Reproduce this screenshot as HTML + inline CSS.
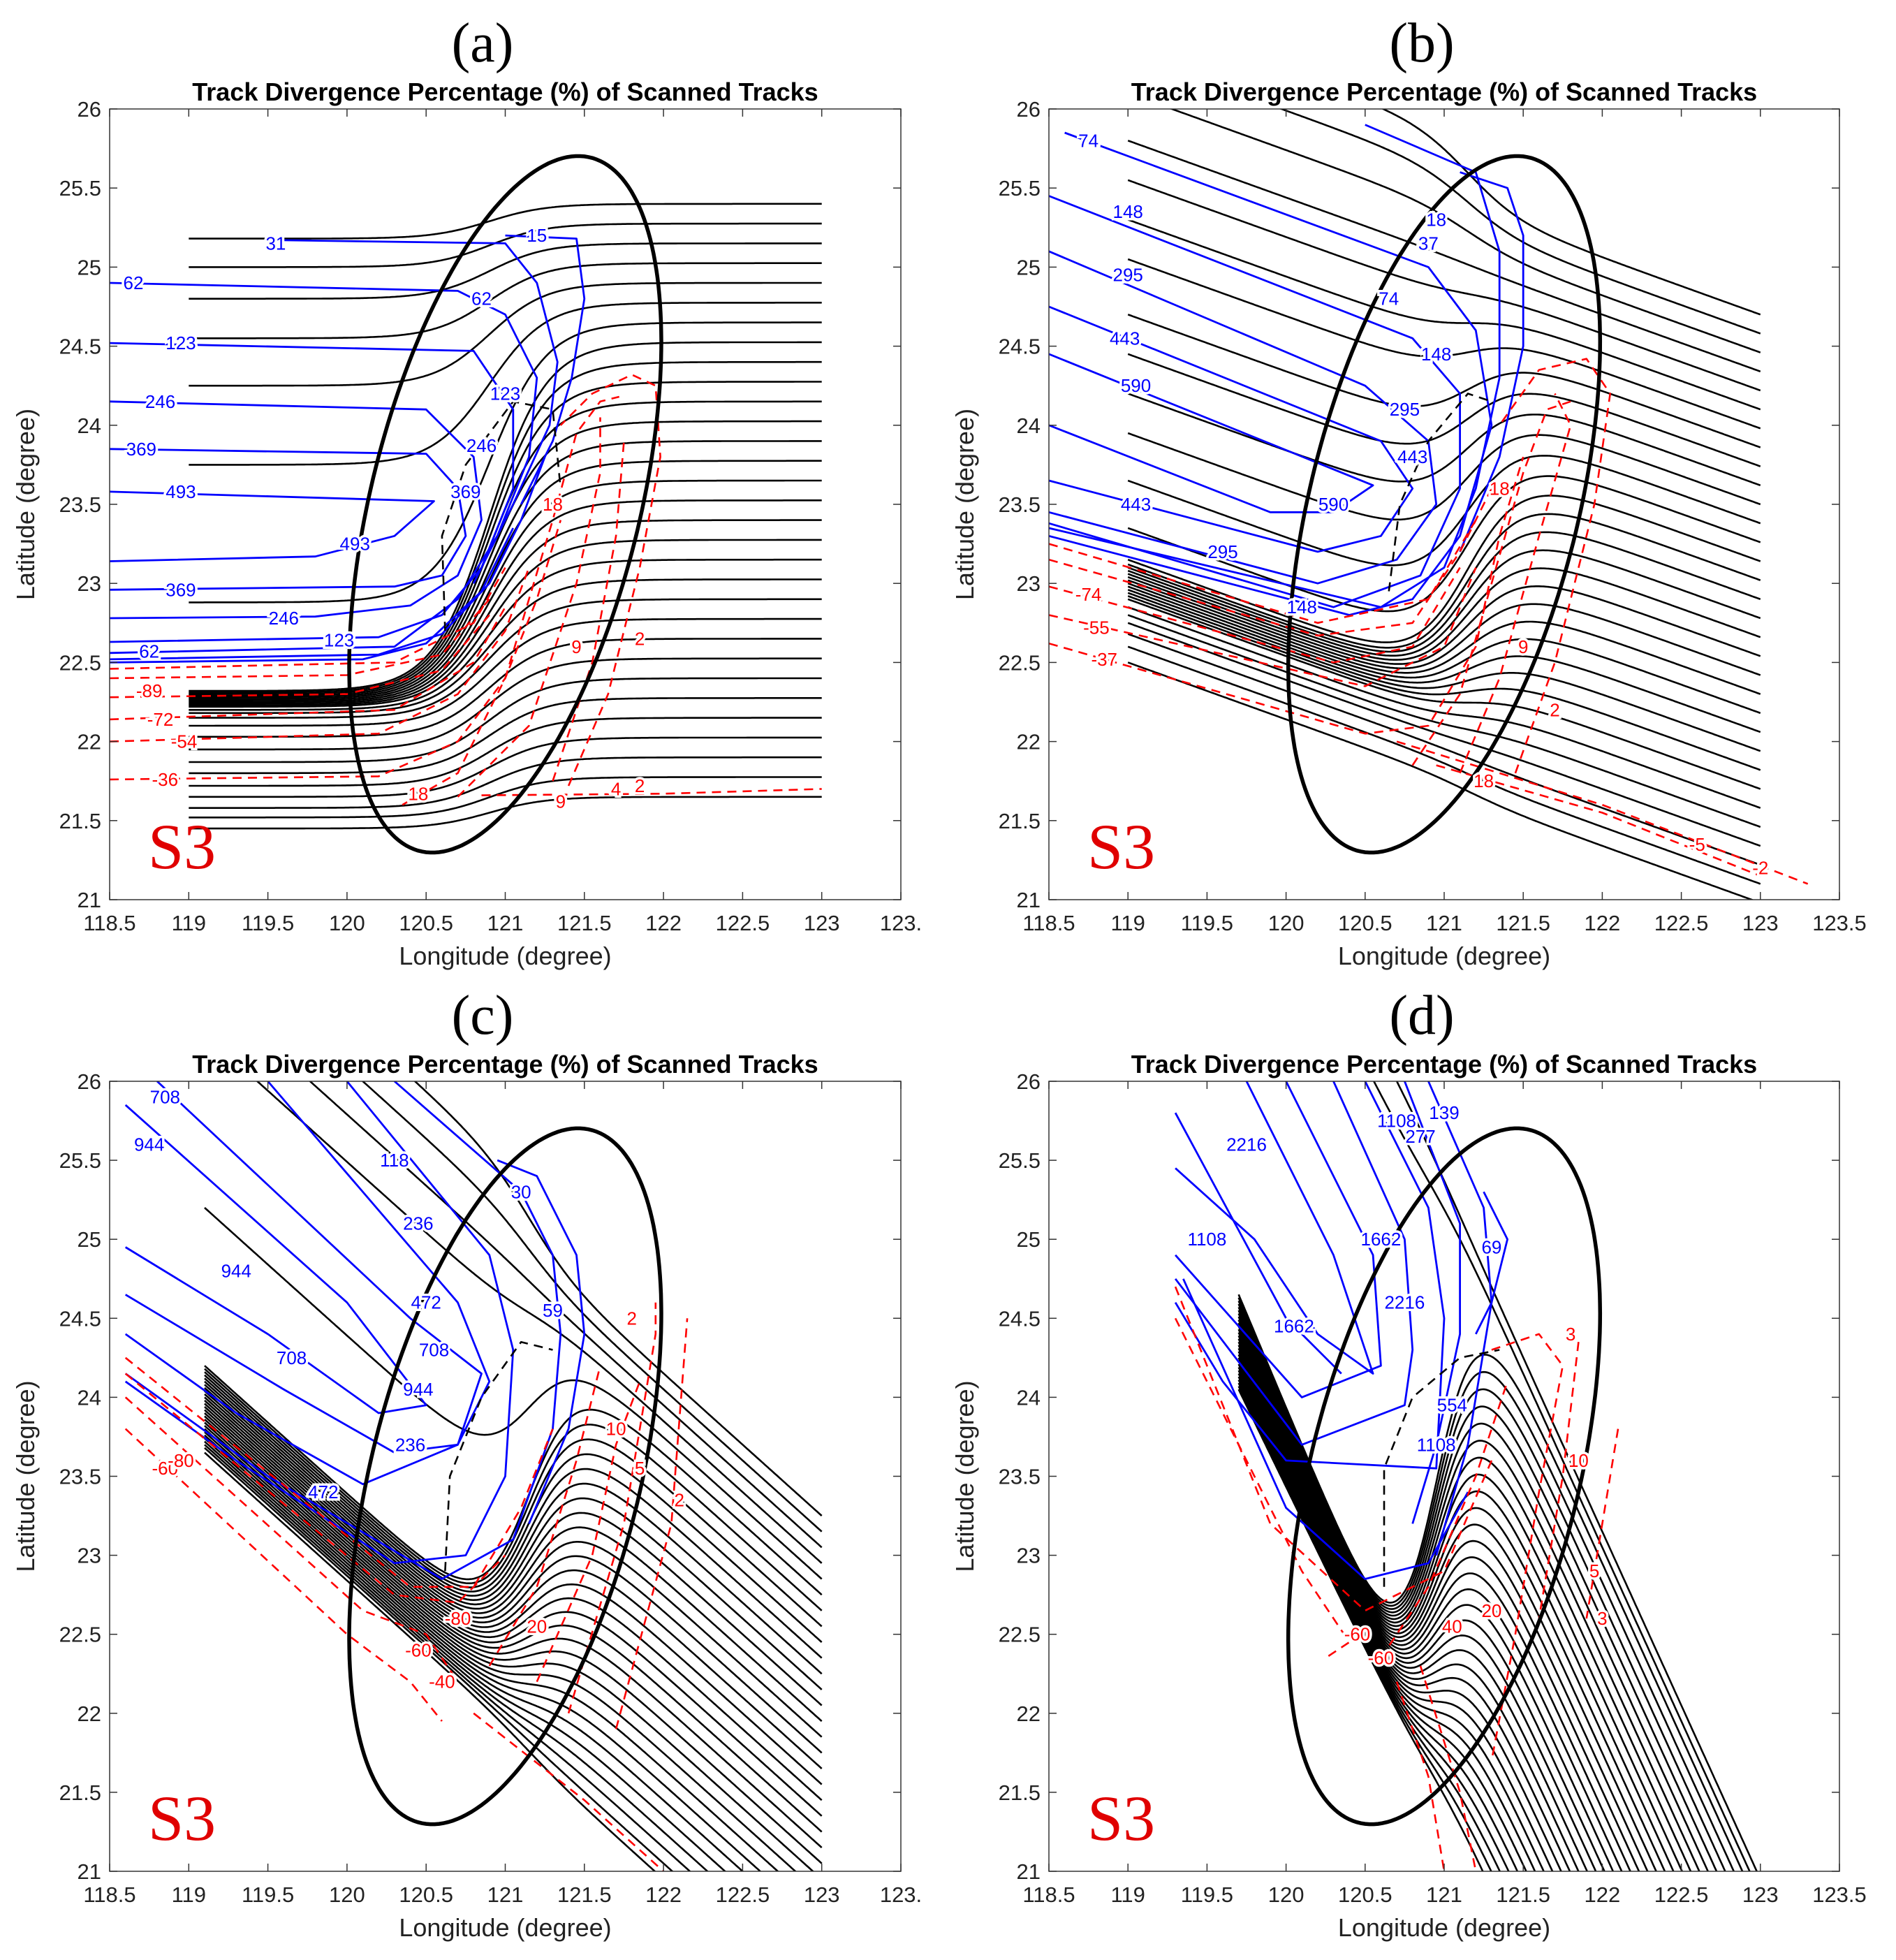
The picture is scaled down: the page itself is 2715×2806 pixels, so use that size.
<!DOCTYPE html>
<html><head><meta charset="utf-8"><style>
html,body{margin:0;padding:0;background:#fff;overflow:hidden;width:2715px;height:2806px;}
svg{display:block;}
</style></head><body>
<svg id="fig" xmlns="http://www.w3.org/2000/svg" width="2715" height="2806" viewBox="0 0 2715 2806"></svg>
<script>
// ---------- DATA ----------
const xTicks=[118.5,119,119.5,120,120.5,121,121.5,122,122.5,123,123.5];
const yTicks=[21,21.5,22,22.5,23,23.5,24,24.5,25,25.5,26];
const xTickLabelsAC=["118.5","119","119.5","120","120.5","121","121.5","122","122.5","123","123."];
const xTickLabelsBD=["118.5","119","119.5","120","120.5","121","121.5","122","122.5","123","123.5"];
const yTickLabels=["21","21.5","22","22.5","23","23.5","24","24.5","25","25.5","26"];
const panelLetters=["(a)","(b)","(c)","(d)"];
const aRight=[25.4,25.275,25.15,25.025,24.9,24.775,24.65,24.525,24.4,24.275,24.15,24.025,23.9,23.775,23.65,23.525,23.4,23.275,23.15,23.025,22.9,22.775,22.65,22.525,22.4,22.275,22.15,22.025,21.9,21.775,21.65];
const aLeft=[25.18,25.0,24.8,24.55,24.25,23.75,22.88,22.32,22.31,22.3,22.29,22.28,22.27,22.26,22.25,22.24,22.23,22.22,22.2,22.18,22.15,22.1,22.03,21.95,21.87,21.8,21.72,21.65,21.58,21.52,21.45];
const bRight=[24.7,24.58,24.46,24.34,24.22,24.1,23.98,23.86,23.74,23.62,23.5,23.38,23.26,23.14,23.02,22.9,22.78,22.66,22.54,22.42,22.3,22.18,22.06,21.94,21.82,21.7,21.58,21.46,21.34,21.22,21.1,20.98];
const bLeft=[26.6,26.35,26.1,25.8,25.55,25.3,25.05,24.7,24.45,24.2,23.95,23.65,23.35,23.15,23.12,23.1,23.08,23.06,23.04,23.02,23.0,22.98,22.96,22.94,22.92,22.9,22.85,22.8,22.75,22.68,22.6,22.5];
const cRight=[23.25,23.15,23.05,22.95,22.85,22.75,22.65,22.55,22.45,22.35,22.25,22.15,22.05,21.95,21.85,21.75,21.65,21.55,21.45,21.35,21.25,21.15,21.05,20.95,20.85,20.75,20.65,20.55,20.45,20.35,20.25,20.15,20.05];
const cLeft=[27.2,26.9,26.6,26.3,25.2,24.2,24.18,24.16,24.14,24.12,24.1,24.08,24.06,24.04,24.02,24.0,23.98,23.96,23.94,23.92,23.9,23.88,23.86,23.84,23.82,23.8,23.78,23.76,23.74,23.72,23.7,23.68,23.65];
// panel d: lat at lon 122 on the outgoing line, start lat at 119.7, lat at the dip (lon 120.6)
const dRight=[23.15,23.05,22.95,22.83,22.71,22.59,22.47,22.35,22.23,22.11,21.99,21.87,21.75,21.63,21.51,21.39,21.27,21.15,21.03,20.91,20.79,20.67,20.55,20.43,20.31,20.19,20.07,19.95,19.83,19.71,19.59,19.47,19.35];
const dLeft=[28.0,27.7,24.65,24.63,24.61,24.59,24.57,24.55,24.53,24.51,24.49,24.47,24.45,24.43,24.41,24.39,24.37,24.35,24.33,24.31,24.29,24.27,24.25,24.23,24.21,24.19,24.17,24.15,24.13,24.11,24.09,24.07,24.05];
const dDip=[26.2,25.9,22.5,22.49,22.48,22.47,22.46,22.45,22.44,22.43,22.42,22.41,22.4,22.39,22.38,22.37,22.36,22.35,22.34,22.33,22.32,22.31,22.3,22.29,22.28,22.27,22.26,22.25,22.24,22.23,22.22,22.21,22.2];
const aBlue=[
 [[121.0,25.2],[121.45,25.18],[121.5,24.8],[121.42,24.3],[121.3,23.9],[121.1,23.5]],
 [[119.6,25.17],[121.0,25.15],[121.2,24.9],[121.33,24.4],[121.28,24.0],[121.05,23.5],[120.8,23.0]],
 [[118.5,24.9],[120.7,24.85],[121.0,24.7],[121.2,24.3],[121.15,23.8],[120.95,23.3],[120.7,22.9],[120.3,22.6],[118.5,22.56]],
 [[118.5,24.52],[120.8,24.47],[121.05,24.1],[121.05,23.6],[120.85,23.1],[120.6,22.8],[120.2,22.66],[118.5,22.63]],
 [[118.5,24.15],[120.5,24.1],[120.8,23.8],[120.85,23.4],[120.7,23.05],[120.4,22.86],[119.8,22.79],[118.5,22.78]],
 [[118.5,23.85],[120.5,23.82],[120.7,23.6],[120.75,23.3],[120.6,23.05],[120.3,22.98],[118.5,22.96]],
 [[118.5,23.58],[120.55,23.52],[120.3,23.3],[119.8,23.17],[118.5,23.14]],
 [[118.5,22.52],[120.2,22.55],[120.6,22.68],[120.9,23.0],[121.1,23.4],[121.25,23.8]],
 [[118.5,22.5],[120.1,22.52],[120.5,22.62],[120.85,22.95],[121.05,23.35]]];
const aRed=[
 [[118.5,21.76],[120.2,21.78],[120.7,22.0],[121.0,22.4],[121.2,22.9],[121.35,23.4]],
 [[118.5,22.0],[120.2,22.05],[120.7,22.3],[121.0,22.7],[121.15,23.1]],
 [[118.5,22.14],[120.3,22.2],[120.8,22.5],[121.0,22.85]],
 [[118.5,22.28],[120.0,22.3],[120.6,22.45],[120.9,22.8]],
 [[118.5,22.4],[120.0,22.42],[120.6,22.55],[120.9,22.9]],
 [[118.5,22.46],[120.3,22.5],[120.8,22.75],[121.0,23.1]],
 [[120.35,21.6],[120.7,21.8],[121.0,22.4],[121.3,23.4],[121.45,23.95],[121.6,24.15],[121.72,24.18]],
 [[120.7,21.65],[121.15,22.1],[121.45,23.0],[121.6,23.7],[121.6,24.05]],
 [[121.3,21.75],[121.55,22.5],[121.7,23.3],[121.75,23.9]],
 [[121.4,21.72],[121.65,22.3],[121.85,23.1],[121.98,23.8],[121.95,24.25],[121.8,24.32],[121.55,24.2],[121.35,24.0]],
 [[120.85,21.66],[122.0,21.67],[123.0,21.7]]];
const aDash=[[[120.62,22.7],[120.6,23.3],[120.75,23.75],[121.05,24.15],[121.3,24.1],[121.35,23.6]]];
const bBlue=[
 [[121.1,25.6],[121.4,25.5],[121.5,25.2],[121.5,24.5],[121.35,23.8],[121.1,23.2]],
 [[120.5,25.9],[121.2,25.6],[121.35,25.1],[121.35,24.3],[121.2,23.6],[121.0,23.1],[120.6,22.85],[118.5,23.35]],
 [[118.6,25.85],[120.9,25.0],[121.2,24.6],[121.3,24.0],[121.1,23.3],[120.8,22.9],[120.4,22.8],[118.5,23.3]],
 [[118.5,25.45],[120.8,24.55],[121.1,24.2],[121.1,23.6],[120.85,23.05],[120.3,22.85],[118.5,23.38]],
 [[118.5,25.1],[120.5,24.25],[120.9,23.9],[120.95,23.5],[120.7,23.15],[120.2,23.0],[118.5,23.45]],
 [[118.5,24.75],[120.6,23.9],[120.8,23.6],[120.6,23.3],[120.2,23.2],[118.5,23.65]],
 [[118.5,24.45],[120.55,23.62],[120.3,23.45],[119.9,23.45],[118.5,24.0]]];
const bRed=[
 [[118.5,22.62],[120.5,22.05],[120.9,22.1],[121.2,22.6],[121.35,23.3],[121.5,23.8]],
 [[118.5,22.8],[120.5,22.35],[121.0,22.6],[121.2,23.1]],
 [[118.5,22.98],[120.3,22.5],[120.8,22.6],[121.1,23.1]],
 [[118.5,23.15],[120.2,22.67],[120.8,22.75],[121.1,23.2],[121.3,23.6]],
 [[118.5,23.25],[120.2,22.75],[120.9,22.9],[121.2,23.4]],
 [[120.8,21.85],[121.1,22.3],[121.3,23.0],[121.5,23.7],[121.65,24.1],[121.8,24.15]],
 [[121.1,21.8],[121.35,22.4],[121.6,23.3],[121.8,24.0],[121.7,24.2]],
 [[121.45,21.8],[121.7,22.5],[121.95,23.5],[122.05,24.2],[121.9,24.42],[121.6,24.35],[121.35,24.0]],
 [[120.7,22.0],[122.0,21.6],[123.3,21.1]],
 [[120.95,21.85],[122.0,21.55],[123.0,21.15]]];
const bDash=[[[120.65,22.95],[120.72,23.5],[120.9,23.9],[121.15,24.2],[121.3,24.15]]];
const cBlue=[
 [[120.95,25.5],[121.2,25.4],[121.45,24.9],[121.5,24.4],[121.4,23.8],[121.15,23.2]],
 [[120.3,26],[121.1,25.3],[121.3,24.9],[121.35,24.4],[121.3,23.8],[121.05,23.1],[120.6,22.85],[119.5,23.5],[118.6,24.15]],
 [[120.0,26],[120.9,24.9],[121.05,24.3],[121.0,23.5],[120.75,23.0],[120.3,22.95],[119.3,23.6],[118.6,24.1]],
 [[119.5,26],[120.7,24.6],[120.9,24.1],[120.7,23.7],[120.1,23.45],[119.3,23.9],[118.6,24.4]],
 [[118.8,26],[120.4,24.5],[120.85,24.15],[120.7,23.7],[120.3,23.65],[119.6,24.05],[118.6,24.65]],
 [[118.6,25.85],[120.0,24.6],[120.5,23.95],[120.2,23.9],[119.5,24.4],[118.6,24.95]]];
const cRed=[
 [[118.6,23.8],[120.0,22.5],[120.4,22.2],[120.6,21.95]],
 [[118.6,24.0],[120.1,22.65],[120.5,22.5],[120.7,22.2]],
 [[118.6,24.15],[120.3,22.75],[120.7,22.7],[121.0,23.0]],
 [[118.6,24.25],[120.4,22.8],[120.8,22.8],[121.1,23.3],[121.3,23.8]],
 [[120.8,22.0],[121.5,21.45],[122.0,21.0]],
 [[120.9,22.3],[121.2,22.8],[121.45,23.6],[121.6,24.2]],
 [[121.2,22.2],[121.55,23.0],[121.7,23.7],[121.85,24.1]],
 [[121.4,22.0],[121.75,23.2],[121.95,24.4],[121.95,24.6]],
 [[121.7,21.9],[122.05,23.2],[122.15,24.5]]];
const cDash=[[[120.62,22.9],[120.65,23.5],[120.85,24.0],[121.1,24.35],[121.3,24.3]]];
const dBlue=[
 [[121.25,25.3],[121.4,25.0],[121.3,24.6],[121.2,24.4]],
 [[120.9,26],[121.25,25.2],[121.3,24.6],[121.15,23.7],[120.95,23.0]],
 [[120.75,26],[121.1,25.1],[121.1,24.4],[120.95,23.7],[120.8,23.2]],
 [[120.5,26],[120.9,25.2],[121.0,24.5],[120.95,23.55],[120.0,23.6],[119.6,24.1],[119.3,24.6]],
 [[120.3,26],[120.75,25.0],[120.8,24.3],[120.75,23.95],[120.1,23.7],[119.3,24.75]],
 [[120.0,26],[120.55,24.9],[120.6,24.2],[120.1,24.0],[119.3,24.9]],
 [[119.75,26],[120.3,24.9],[120.55,24.15],[120.2,24.4],[119.8,25.0],[119.3,25.45]],
 [[119.3,25.8],[120.0,24.5],[120.35,24.15]],
 [[119.35,24.75],[120.0,23.3],[120.5,22.85],[120.9,22.95],[121.15,23.4]]];
const dRed=[
 [[119.3,24.7],[119.9,23.2],[120.5,22.65],[121.0,22.9],[121.3,23.6]],
 [[119.3,24.5],[120.1,22.9],[120.4,22.45],[120.25,22.35]],
 [[120.6,22.35],[120.9,22.8],[121.2,23.5],[121.4,24.1]],
 [[120.7,22.2],[120.9,21.6],[121.0,21.0]],
 [[120.85,22.3],[121.1,21.5],[121.2,21.0]],
 [[121.3,24.3],[121.6,24.4],[121.75,24.2],[121.6,23.4],[121.45,22.5],[121.3,21.7]],
 [[121.85,24.35],[121.75,23.5],[121.6,22.6]],
 [[122.1,23.8],[122.0,23.2],[121.9,22.6]]];
const dDash=[[[120.62,22.8],[120.62,23.55],[120.8,24.0],[121.1,24.25],[121.35,24.3]]];
const labels=[
 [0,121.2,25.2,"15","b"],[0,119.55,25.15,"31","b"],[0,118.65,24.9,"62","b"],[0,120.85,24.8,"62","b"],[0,118.95,24.52,"123","b"],[0,121.0,24.2,"123","b"],[0,118.82,24.15,"246","b"],[0,120.85,23.87,"246","b"],[0,118.7,23.85,"369","b"],[0,120.75,23.58,"369","b"],[0,118.95,23.58,"493","b"],[0,120.05,23.25,"493","b"],[0,118.95,22.96,"369","b"],[0,119.6,22.78,"246","b"],[0,119.95,22.64,"123","b"],[0,118.75,22.57,"62","b"],
 [0,118.75,22.32,"-89","r"],[0,118.82,22.14,"-72","r"],[0,118.97,22.0,"-54","r"],[0,118.85,21.76,"-36","r"],[0,120.45,21.67,"18","r"],[0,121.35,21.62,"9","r"],[0,121.3,23.5,"18","r"],[0,121.45,22.6,"9","r"],[0,121.7,21.7,"4","r"],[0,121.85,21.72,"2","r"],[0,121.85,22.65,"2","r"],
 [1,118.75,25.8,"74","b"],[1,119.0,25.35,"148","b"],[1,119.0,24.95,"295","b"],[1,118.98,24.55,"443","b"],[1,119.05,24.25,"590","b"],[1,119.05,23.5,"443","b"],[1,120.3,23.5,"590","b"],[1,119.6,23.2,"295","b"],[1,120.1,22.85,"148","b"],[1,120.95,25.3,"18","b"],[1,120.9,25.15,"37","b"],[1,120.65,24.8,"74","b"],[1,120.95,24.45,"148","b"],[1,120.75,24.1,"295","b"],[1,120.8,23.8,"443","b"],
 [1,118.75,22.93,"-74","r"],[1,118.8,22.72,"-55","r"],[1,118.85,22.52,"-37","r"],[1,121.25,21.75,"18","r"],[1,122.6,21.35,"-5","r"],[1,123.0,21.2,"-2","r"],[1,121.35,23.6,"18","r"],[1,121.5,22.6,"9","r"],[1,121.7,22.2,"2","r"],
 [2,118.85,25.9,"708","b"],[2,118.75,25.6,"944","b"],[2,119.3,24.8,"944","b"],[2,119.65,24.25,"708","b"],[2,120.3,25.5,"118","b"],[2,120.45,25.1,"236","b"],[2,120.5,24.6,"472","b"],[2,120.55,24.3,"708","b"],[2,120.45,24.05,"944","b"],[2,120.4,23.7,"236","b"],[2,119.85,23.4,"472","b"],[2,121.1,25.3,"30","b"],[2,121.3,24.55,"59","b"],
 [2,118.85,23.55,"-60","r"],[2,118.95,23.6,"-80","r"],[2,120.45,22.4,"-60","r"],[2,120.6,22.2,"-40","r"],[2,120.7,22.6,"-80","r"],[2,121.2,22.55,"20","r"],[2,121.7,23.8,"10","r"],[2,121.85,23.55,"5","r"],[2,122.1,23.35,"2","r"],[2,121.8,24.5,"2","r"],
 [3,119.75,25.6,"2216","b"],[3,119.5,25.0,"1108","b"],[3,120.05,24.45,"1662","b"],[3,120.7,25.75,"1108","b"],[3,120.85,25.65,"277","b"],[3,121.0,25.8,"139","b"],[3,120.6,25.0,"1662","b"],[3,120.75,24.6,"2216","b"],[3,121.3,24.95,"69","b"],[3,121.05,23.95,"554","b"],[3,120.95,23.7,"1108","b"],
 [3,120.45,22.5,"-60","r"],[3,120.6,22.35,"-60","r"],[3,121.05,22.55,"40","r"],[3,121.3,22.65,"20","r"],[3,121.85,23.6,"10","r"],[3,121.95,22.9,"5","r"],[3,122.0,22.6,"3","r"],[3,121.8,24.4,"3","r"]];
// ---------- LAYOUT ----------
const NS="http://www.w3.org/2000/svg";
const svg=document.getElementById('fig');
const panels=[
 {x0:157,x1:1290,y0:156,y1:1288,tx:691,ty:88,tl:xTickLabelsAC,right:aRight,left:aLeft,blue:aBlue,red:aRed,dash:aDash,s:0,ref:123,xs:119,xe:123,c:120.9,w:0.18},
 {x0:1502,x1:2634,y0:156,y1:1288,tx:2036,ty:88,tl:xTickLabelsBD,right:bRight,left:bLeft,blue:bBlue,red:bRed,dash:bDash,s:-0.36,ref:123,xs:119,xe:123,c:121.15,w:0.17},
 {x0:157,x1:1290,y0:1548,y1:2679,tx:691,ty:1480,tl:xTickLabelsAC,right:cRight,left:cLeft,blue:cBlue,red:cRed,dash:cDash,s:-0.9,ref:123,xs:119.1,xe:123,c:121.15,w:0.15},
 {x0:1502,x1:2634,y0:1548,y1:2679,tx:2036,ty:1480,tl:xTickLabelsBD,right:dRight,left:dLeft,dip:dDip,dipX:120.6,blue:dBlue,red:dRed,dash:dDash,s:-2.2,ref:122,xs:119.7,xe:123.5,c:120.95,w:0.13}];
function mk(tag,attrs,parent){const e=document.createElementNS(NS,tag);for(const k in attrs)e.setAttribute(k,attrs[k]);(parent||svg).appendChild(e);return e;}
panels.forEach((p,pi)=>{
 const X=v=>p.x0+(v-118.5)/5*(p.x1-p.x0);
 const Y=v=>p.y1-(v-21)/5*(p.y1-p.y0);
 const g=mk('g',{});
 
 
 const cid='clip'+pi;
 const cp=mk('clipPath',{id:cid},g);mk('rect',{x:p.x0,y:p.y0,width:p.x1-p.x0,height:p.y1-p.y0},cp);
 const plot=mk('g',{'clip-path':'url(#'+cid+')'},g);
 p.right.forEach((R,i)=>{
  const L=p.left[i];
  let ls=p.s;
  if(p.dip)ls=(p.dip[i]-L)/(p.dipX-p.xs);
  let d='';
  for(let lon=p.xs;lon<=p.xe+1e-9;lon+=0.01){
   const sig=1/(1+Math.exp(-(lon-p.c)/p.w));
   const rl=R+p.s*(lon-p.ref);
   const ll=L+ls*(lon-p.xs);
   const lat=sig*rl+(1-sig)*ll;
   d+=(d?'L':'M')+X(lon).toFixed(1)+' '+Y(lat).toFixed(1);}
  const e=mk('path',{d:d,fill:'none',stroke:'#000','stroke-width':2.6},plot);
  
  
 });
 const poly=(pts,col,dash,w,name)=>{
  const e=mk('polyline',{points:pts.map(q=>X(q[0]).toFixed(1)+','+Y(q[1]).toFixed(1)).join(' '),fill:'none',stroke:col,'stroke-width':w,'stroke-linejoin':'round'},plot);
  if(dash)e.setAttribute('stroke-dasharray',dash);
  
  };
 p.blue.forEach(c=>poly(c,'#0000ff',null,2.8,'blue-contour'));
 p.red.forEach(c=>poly(c,'#ff0000','13 9',2.6,'red-contour'));
 p.dash.forEach(c=>poly(c,'#000','13 9',2.6,'black-dashed-contour'));
 let ed='';
 for(let k=0;k<=200;k++){const t=k/200*2*Math.PI;const lon=121.0+0.5*Math.cos(t)+0.85*Math.sin(t);const lat=23.5+2.2*Math.cos(t)-0.1*Math.sin(t);ed+=(k?'L':'M')+X(lon).toFixed(1)+' '+Y(lat).toFixed(1);}
 const el=mk('path',{d:ed+'Z',fill:'none',stroke:'#000','stroke-width':5.5},plot);
 
 
 labels.filter(l=>l[0]===pi).forEach(l=>{
  const t=mk('text',{x:X(l[1]),y:Y(l[2])+9,'font-family':'Liberation Sans, sans-serif','font-size':26,'text-anchor':'middle',fill:l[4]==='b'?'#0000ff':'#ff0000',stroke:'#fff','stroke-width':7,'paint-order':'stroke'},plot);
  t.textContent=l[3];
  
  });
 const fr=mk('rect',{x:p.x0,y:p.y0,width:p.x1-p.x0,height:p.y1-p.y0,fill:'none',stroke:'#333','stroke-width':1.5},g);
 
 
 xTicks.forEach((v,i)=>{
  const x=X(v);
  mk('line',{x1:x,y1:p.y1,x2:x,y2:p.y1-11,stroke:'#333','stroke-width':1.5},g);
  mk('line',{x1:x,y1:p.y0,x2:x,y2:p.y0+11,stroke:'#333','stroke-width':1.5},g);
  const t=mk('text',{x:x,y:p.y1+44,'font-family':'Liberation Sans, sans-serif','font-size':31,'text-anchor':'middle',fill:'#222'},g);
  t.textContent=p.tl[i];
  
  });
 yTicks.forEach((v,i)=>{
  const y=Y(v);
  mk('line',{x1:p.x0,y1:y,x2:p.x0+11,y2:y,stroke:'#333','stroke-width':1.5},g);
  mk('line',{x1:p.x1,y1:y,x2:p.x1-11,y2:y,stroke:'#333','stroke-width':1.5},g);
  const t=mk('text',{x:p.x0-12,y:y+11,'font-family':'Liberation Sans, sans-serif','font-size':31,'text-anchor':'end',fill:'#222'},g);
  t.textContent=yTickLabels[i];
  
  });
 const cx=(p.x0+p.x1)/2;
 const xl=mk('text',{x:cx,y:p.y1+93,'font-family':'Liberation Sans, sans-serif','font-size':36,'text-anchor':'middle',fill:'#222'},g);
 xl.textContent='Longitude (degree)';
 
 
 const yx=p.x0-108,yy=(p.y0+p.y1)/2;
 const yl=mk('text',{x:yx,y:yy,'font-family':'Liberation Sans, sans-serif','font-size':36,'text-anchor':'middle',fill:'#222',transform:'rotate(-90 '+yx+' '+yy+')'},g);
 yl.textContent='Latitude (degree)';
 
 
 const ti=mk('text',{x:cx,y:p.y0-12,'font-family':'Liberation Sans, sans-serif','font-size':36,'font-weight':'bold','text-anchor':'middle',fill:'#000'},g);
 ti.textContent='Track Divergence Percentage (%) of Scanned Tracks';
 
 
 const pl=mk('text',{x:p.tx,y:p.ty,'font-family':'Liberation Serif, serif','font-size':80,'text-anchor':'middle',fill:'#000'},g);
 pl.textContent=panelLetters[pi];
 
 
 const s3=mk('text',{x:p.x0+55,y:p.y1-45,'font-family':'Liberation Serif, serif','font-size':92,fill:'#e00000'},g);
 s3.textContent='S3';
 
 
});
</script>
</body></html>
